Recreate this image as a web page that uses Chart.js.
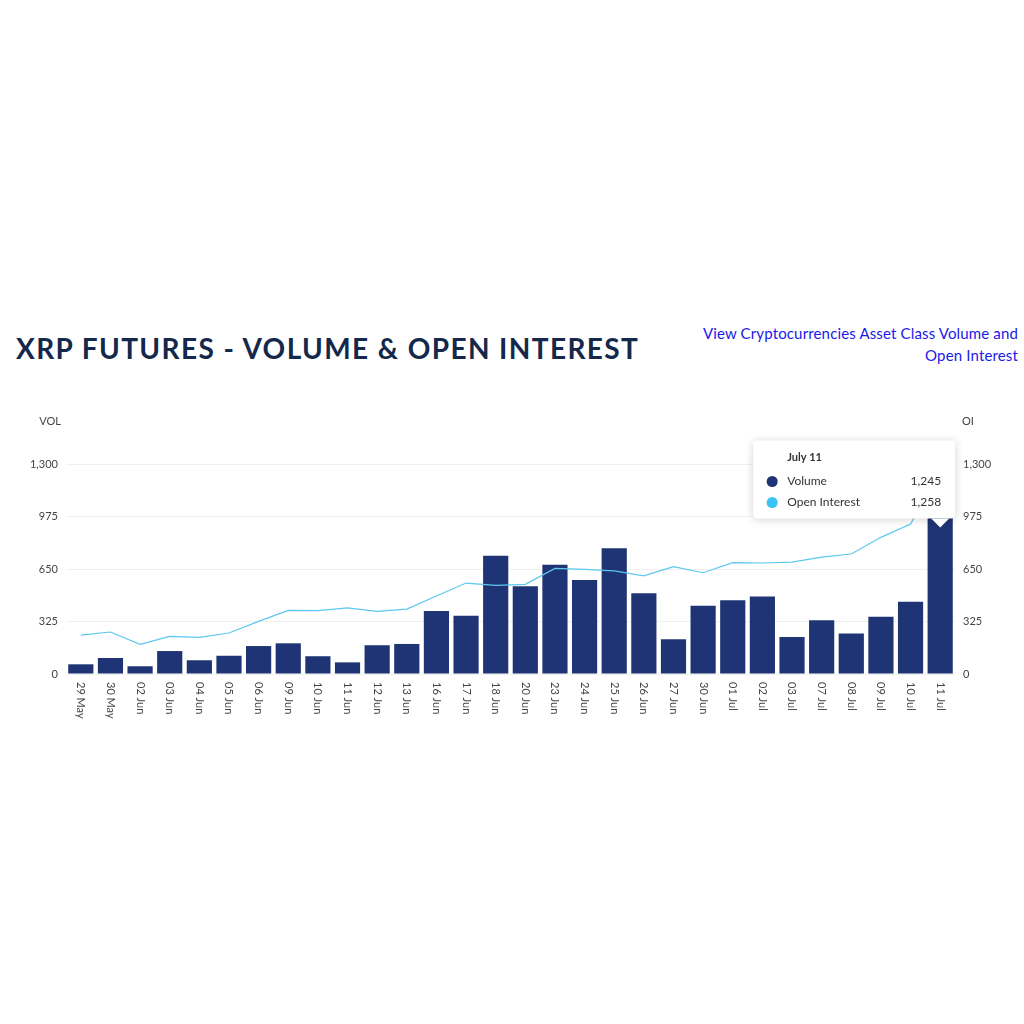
<!DOCTYPE html>
<html>
<head>
<meta charset="utf-8">
<script src="https://cdn.jsdelivr.net/npm/chart.js@4.4.1/dist/chart.umd.min.js"></script>
<style>
  html, body { margin: 0; padding: 0; background: #fff; width: 1024px; height: 1024px; overflow: hidden; }
  #title { position: absolute; left: 16px; top: 331px; font-family: "Lato", sans-serif; font-weight: 700; font-size: 28px; letter-spacing: 1.4px; color: #13284a; white-space: nowrap; }
  #link { position: absolute; right: 6px; top: 322px; width: 360px; text-align: right; font-family: "Lato", sans-serif; font-size: 15px; letter-spacing: 0.15px; line-height: 22px; color: #1a1ae8; }
  #wrap { position: absolute; left: 0; top: 400px; width: 1024px; height: 340px; }
</style>
</head>
<body>
<div id="title">XRP FUTURES - VOLUME &amp; OPEN INTEREST</div>
<div id="link">View Cryptocurrencies Asset Class Volume and<br>Open Interest</div>
<div id="wrap"><canvas id="c" width="1024" height="340"></canvas></div>
<script>
const categories = ["29 May","30 May","02 Jun","03 Jun","04 Jun","05 Jun","06 Jun","09 Jun","10 Jun","11 Jun","12 Jun","13 Jun","16 Jun","17 Jun","18 Jun","20 Jun","23 Jun","24 Jun","25 Jun","26 Jun","27 Jun","30 Jun","01 Jul","02 Jul","03 Jul","07 Jul","08 Jul","09 Jul","10 Jul","11 Jul"];
const volume = [60,99,48,142,85,113,173,190,110,72,178,186,390,361,732,543,677,582,778,500,215,423,456,479,229,332,250,355,448,1245];
const openInterest = [241,260,184,233,227,254,326,394,392,409,388,402,483,563,549,555,654,648,638,607,664,627,689,687,693,724,743,846,929,1258];
const yTicks = [0,325,650,975,1300];
const tooltipIndex = 29;
const tooltipTitle = "July 11";

const fmt = v => Number(v).toLocaleString('en-US');
const FONT = '"Lato", sans-serif';

const overlay = {
  id: 'overlay',
  afterDraw(chart) {
    const ctx = chart.ctx;
    const xs = chart.scales.x, yl = chart.scales.y, yr = chart.scales.y1;
    ctx.save();
    // axis titles
    ctx.fillStyle = '#444';
    ctx.font = '11px ' + FONT;
    ctx.textBaseline = 'middle';
    ctx.textAlign = 'right';
    ctx.fillText('VOL', yl.right - 5, 21);
    ctx.textAlign = 'left';
    ctx.fillText('OI', yr.left + 7, 21);
    // x labels rotated clockwise
    ctx.fillStyle = '#444';
    ctx.font = '11px ' + FONT;
    categories.forEach((lab, i) => {
      const x = xs.getPixelForValue(i);
      ctx.save();
      ctx.translate(x, xs.top + 8);
      ctx.rotate(Math.PI / 2);
      ctx.textAlign = 'left';
      ctx.textBaseline = 'middle';
      ctx.fillText(lab, 0, 0);
      ctx.restore();
    });
    // tooltip
    const bar = chart.getDatasetMeta(1).data[tooltipIndex];
    const cx = bar.x;
    const tipY = yl.getPixelForValue(975) + 10;
    const bw = 202, bh = 78;
    const bx = cx + 15 - bw, by = tipY - 8 - bh;
    ctx.save();
    ctx.shadowColor = 'rgba(0,0,0,0.18)';
    ctx.shadowBlur = 8;
    ctx.shadowOffsetY = 1;
    ctx.fillStyle = '#fff';
    ctx.beginPath();
    ctx.roundRect(bx, by, bw, bh, 4);
    ctx.fill();
    ctx.restore();
    ctx.fillStyle = '#fff';
    ctx.beginPath();
    ctx.moveTo(cx - 9, by + bh);
    ctx.lineTo(cx + 9, by + bh);
    ctx.lineTo(cx, by + bh + 9);
    ctx.closePath();
    ctx.fill();
    ctx.fillStyle = '#333';
    ctx.font = 'bold 11px ' + FONT;
    ctx.textAlign = 'left';
    ctx.textBaseline = 'middle';
    ctx.fillText(tooltipTitle, bx + 34, by + 17);
    const rows = [
      {label: chart.data.datasets[1].label, value: chart.data.datasets[1].data[tooltipIndex], color: chart.data.datasets[1].backgroundColor},
      {label: chart.data.datasets[0].label, value: chart.data.datasets[0].data[tooltipIndex], color: '#3cc3f5'}
    ];
    rows.forEach((r, k) => {
      const ry = by + 41 + k * 21;
      ctx.fillStyle = r.color;
      ctx.beginPath();
      ctx.arc(bx + 19, ry, 5.5, 0, Math.PI * 2);
      ctx.fill();
      ctx.fillStyle = '#333';
      ctx.font = '12px ' + FONT;
      ctx.textAlign = 'left';
      ctx.fillText(r.label, bx + 34, ry);
      ctx.textAlign = 'right';
      ctx.fillText(fmt(r.value), bx + bw - 14, ry);
    });
    ctx.restore();
  }
};

new Chart(document.getElementById('c'), {
  data: {
    labels: categories,
    datasets: [
      { type: 'line', label: 'Open Interest', data: openInterest, yAxisID: 'y1', borderColor: '#5cc8ef', borderWidth: 1.2, pointRadius: 0, tension: 0, order: 0 },
      { type: 'bar', label: 'Volume', data: volume, yAxisID: 'y', backgroundColor: '#1f3474', barPercentage: 0.85, categoryPercentage: 1.0, order: 1 }
    ]
  },
  plugins: [overlay],
  options: {
    responsive: false,
    animation: false,
    layout: { padding: { top: 64, bottom: 0, left: 0, right: 0 } },
    plugins: { legend: { display: false }, tooltip: { enabled: false } },
    scales: {
      x: {
        offset: true,
        grid: { display: false, drawTicks: false },
        border: { display: false },
        ticks: { display: false },
        afterFit: s => { s.height = 66; }
      },
      y: {
        position: 'left', min: 0, max: 1300,
        afterBuildTicks: s => { s.ticks = yTicks.map(v => ({ value: v })); },
        grid: { color: '#f0f0f0', drawTicks: false },
        border: { display: false },
        ticks: { padding: 8, color: '#444', font: { family: FONT, size: 11 }, callback: v => fmt(v) },
        afterFit: s => { s.width = 66; }
      },
      y1: {
        position: 'right', min: 0, max: 1300,
        afterBuildTicks: s => { s.ticks = yTicks.map(v => ({ value: v })); },
        grid: { display: false, drawTicks: false },
        border: { display: false },
        ticks: { padding: 8, color: '#444', font: { family: FONT, size: 11 }, callback: v => fmt(v) },
        afterFit: s => { s.width = 69; }
      }
    }
  }
});
</script>
</body>
</html>
